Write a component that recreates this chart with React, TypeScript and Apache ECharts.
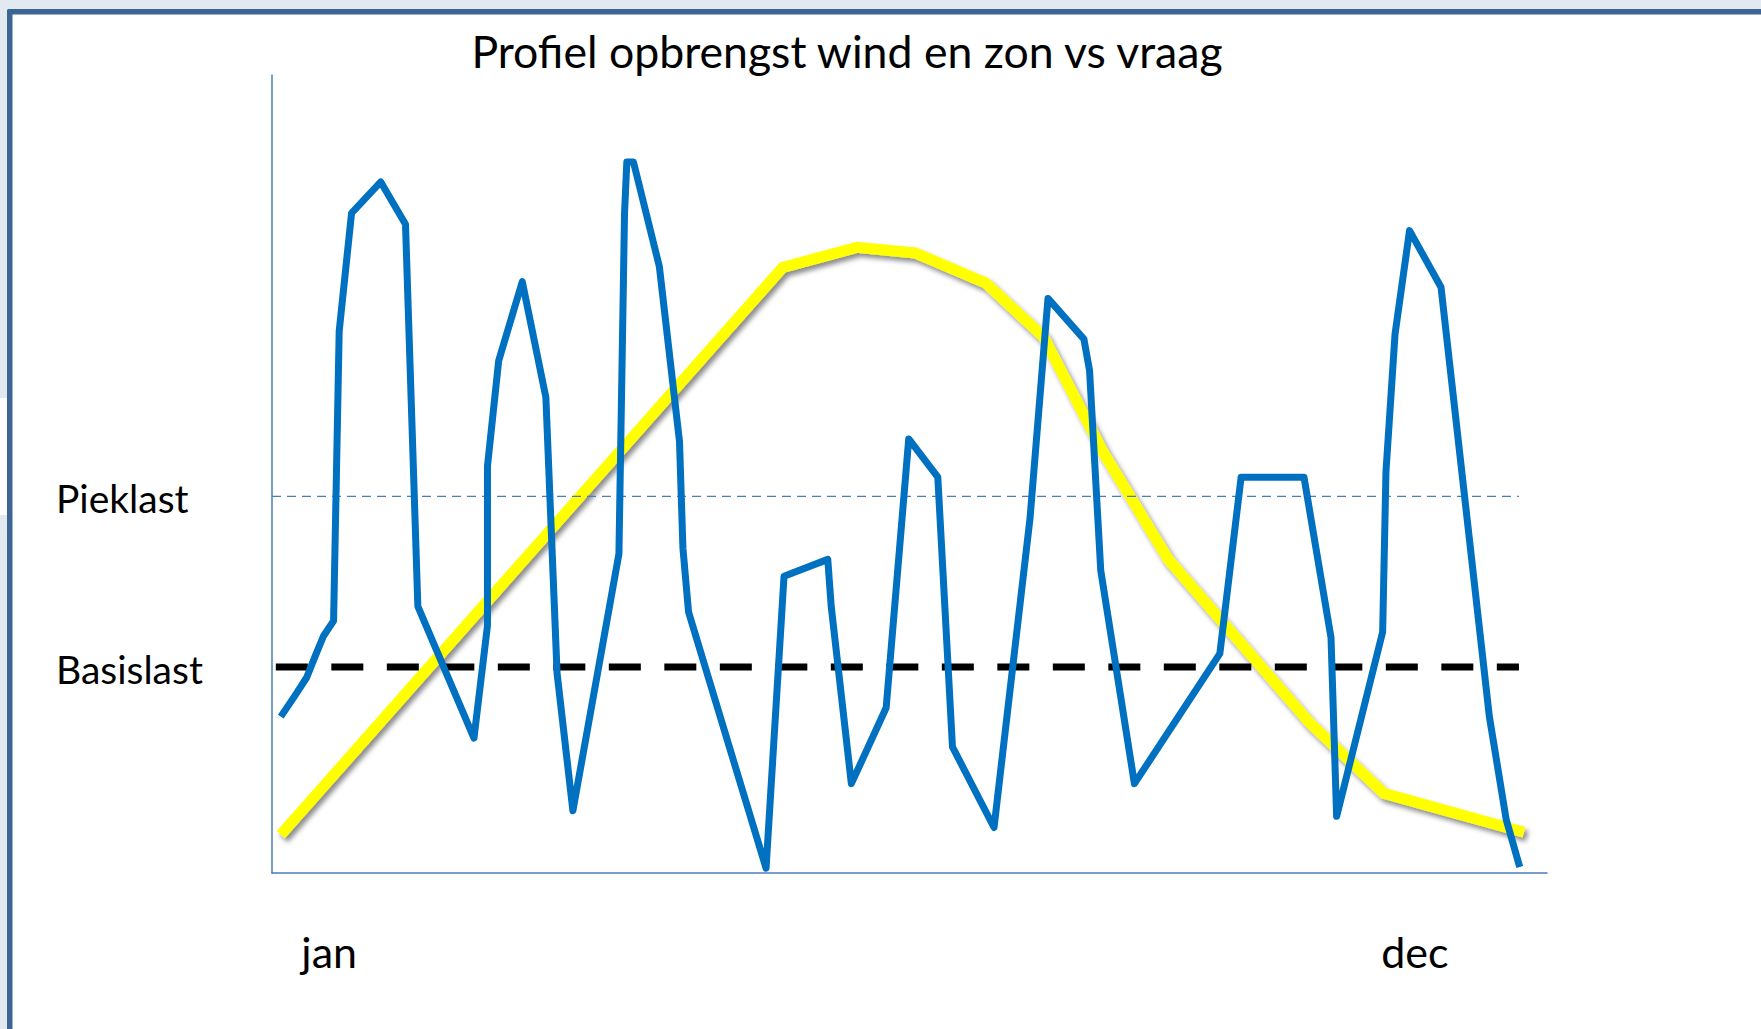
import React, { useEffect, useRef } from "react";
import * as echarts from "echarts";

const titleText = "Profiel opbrengst wind en zon vs vraag";
const monthLabels = ["jan", "dec"];
const monthX = [2.3, 87.0];
const levelLabels = ["Pieklast", "Basislast"];
const levelValues = [47.2, 25.8];
const levelStartX = [0, 0.3];
const levelEndX = [97.8, 97.8];

const windX = [0.69, 1.75, 2.72, 3.42, 4.04, 4.83, 5.27, 6.24, 8.53, 10.47, 11.44, 15.84, 16.9, 16.9, 17.78, 19.63, 21.48, 22.36, 23.6, 27.21, 27.65, 27.83, 28.35, 30.38, 31.96, 32.23, 32.67, 38.75, 40.16, 43.59, 43.86, 45.44, 48.17, 49.94, 52.22, 53.37, 56.63, 59.45, 60.86, 63.68, 64.12, 65.0, 67.64, 74.34, 76.01, 80.94, 83.06, 83.5, 87.11, 87.37, 88.08, 89.22, 91.69, 95.48, 96.8, 97.86];
const windY = [19.6, 22.1, 24.5, 27.3, 29.7, 31.6, 67.9, 82.7, 86.6, 81.3, 33.4, 16.9, 31.0, 51.0, 64.2, 74.1, 59.6, 25.0, 7.8, 40.0, 82.7, 89.1, 89.1, 76.0, 54.1, 40.7, 32.7, 0.6, 37.2, 39.3, 33.4, 11.2, 20.7, 54.4, 49.6, 15.8, 5.7, 44.4, 72.0, 66.9, 63.0, 37.9, 11.2, 27.5, 49.6, 49.6, 29.5, 7.1, 30.2, 50.3, 67.5, 80.5, 73.4, 19.6, 6.7, 0.75];

const vraagX = [0.69, 40.06, 45.87, 50.45, 56.0, 60.5, 65.2, 70.3, 81.4, 87.2, 98.2];
const vraagY = [4.8, 75.9, 78.4, 77.7, 73.9, 67.2, 52.7, 39.3, 18.8, 10.0, 5.1];

const FONT = "Lato";

export default function App() {
  const ref = useRef<HTMLDivElement>(null);

  useEffect(() => {
    document.body.style.margin = "0";
    document.body.style.overflow = "hidden";
    const chart = echarts.init(ref.current!, undefined, { renderer: "svg" });

    const zip = (xs: number[], ys: number[]) => xs.map((x, i) => [x, ys[i]]);

    const option: any = {
      animation: false,
      backgroundColor: "#ffffff",
      grid: { left: 272, right: 214, top: 75, bottom: 156, containLabel: false },
      xAxis: {
        type: "value",
        min: 0,
        max: 100,
        axisLine: { show: true, lineStyle: { color: "#4a7ebb", width: 1.5 } },
        axisTick: { show: false },
        axisLabel: { show: false },
        splitLine: { show: false },
      },
      yAxis: {
        type: "value",
        min: 0,
        max: 100,
        axisLine: { show: true, lineStyle: { color: "#4a7ebb", width: 1.5 } },
        axisTick: { show: false },
        axisLabel: { show: false },
        splitLine: { show: false },
      },
      series: [
        {
          name: "vraag",
          type: "line",
          data: zip(vraagX, vraagY),
          symbol: "none",
          z: 2,
          lineStyle: {
            color: "#ffff00",
            width: 11,
            cap: "butt",
            join: "miter",
            shadowColor: "rgba(0,0,0,0.45)",
            shadowBlur: 5,
            shadowOffsetX: 3,
            shadowOffsetY: 4,
          },
        },
        {
          name: levelLabels[0],
          type: "line",
          data: [[levelStartX[0], levelValues[0]], [levelEndX[0], levelValues[0]]],
          symbol: "none",
          z: 3,
          lineStyle: { color: "#4a7ebb", width: 1.3, type: [9, 6] },
        },
        {
          name: levelLabels[1],
          type: "line",
          data: [[levelStartX[1], levelValues[1]], [levelEndX[1], levelValues[1]]],
          symbol: "none",
          z: 3,
          lineStyle: { color: "#000000", width: 7, type: [32, 23.5] },
        },
        {
          name: "wind en zon",
          type: "line",
          data: zip(windX, windY),
          symbol: "none",
          z: 4,
          lineStyle: { color: "#0070c0", width: 7, join: "round", cap: "butt" },
        },
      ],
    };
    chart.setOption(option);

    const levelGraphics = levelLabels.map((t, i) => {
      const p = chart.convertToPixel({ gridIndex: 0 }, [0, levelValues[i]]) as number[];
      return {
        type: "text",
        x: 56,
        y: p[1] + 2,
        z: 10,
        style: { text: t, fontSize: 39, fontFamily: FONT, fill: "#000", align: "left", verticalAlign: "middle" },
      };
    });
    const monthGraphics = monthLabels.map((t, i) => {
      const p = chart.convertToPixel({ gridIndex: 0 }, [monthX[i], 0]) as number[];
      return {
        type: "text",
        x: p[0],
        y: 951,
        z: 10,
        style: { text: t, fontSize: 43, fontFamily: FONT, fill: "#000", align: "left", verticalAlign: "middle" },
      };
    });

    chart.setOption({
      graphic: [
        { type: "rect", shape: { x: 0, y: 0, width: 1761, height: 9 }, style: { fill: "#e2e9f1" }, z: 0 },
        { type: "rect", shape: { x: 0, y: 0, width: 7, height: 1029 }, style: { fill: "#e2e9f1" }, z: 0 },
        { type: "rect", shape: { x: 0, y: 398, width: 7, height: 117 }, style: { fill: "#ffffff" }, z: 0 },
        { type: "rect", shape: { x: 7, y: 9, width: 1754, height: 5.5, r: [2, 0, 0, 0] }, style: { fill: "#3d6593" }, z: 1 },
        { type: "rect", shape: { x: 7, y: 9, width: 5.5, height: 1020, r: [2, 0, 0, 0] }, style: { fill: "#3d6593" }, z: 1 },
        {
          type: "text",
          x: 847,
          y: 50,
          z: 10,
          style: { text: titleText, fontSize: 44.6, fontFamily: FONT, fill: "#000", align: "center", verticalAlign: "middle" },
        },
        ...levelGraphics,
        ...monthGraphics,
      ],
    });

    return () => chart.dispose();
  }, []);

  return <div ref={ref} style={{ width: 1761, height: 1029 }} />;
}
